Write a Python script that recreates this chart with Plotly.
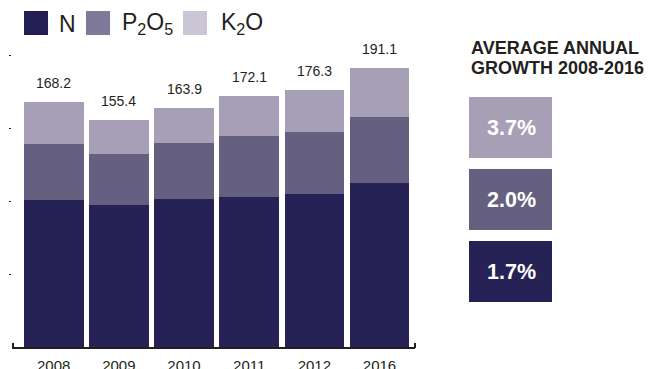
import plotly.graph_objects as go

# ---- data ----
years = ["2008", "2009", "2010", "2011", "2012", "2016"]
n_vals = [100.5, 97.1, 101.2, 103.2, 104.6, 112.3]
p2o5_vals = [38.4, 35.0, 38.6, 41.2, 42.7, 45.7]
k2o_vals = [29.3, 23.3, 24.1, 27.7, 29.0, 33.1]
totals = [168.2, 155.4, 163.9, 172.1, 176.3, 191.1]
series_names = ["N", "P<sub>2</sub>O<sub>5</sub>", "K<sub>2</sub>O"]
growth_labels = ["3.7%", "2.0%", "1.7%"]  # K2O, P2O5, N
panel_title = ["AVERAGE ANNUAL", "GROWTH 2008-2016"]

# ---- styles ----
C_N = "#262256"
C_P = "#655f80"
C_K = "#a69fb6"
L_N = "#231f55"
L_P = "#807a9a"
L_K = "#cac6d6"
TXT = "#231f20"
FONT = "Liberation Sans, Arial, Helvetica, sans-serif"

W, H = 659, 369
ML, MR, MT, MB = 12, 244, 20, 22
PW = W - ML - MR
PH = H - MT - MB


def px_x(px):
    return (px - ML) / PW


def px_y(py):
    return (H - MB - py) / PH


fig = go.Figure()
for vals, col, name in [(n_vals, C_N, "N"), (p2o5_vals, C_P, "P2O5"), (k2o_vals, C_K, "K2O")]:
    fig.add_trace(go.Bar(x=years, y=vals, marker=dict(color=col, line=dict(width=0)),
                         name=name, showlegend=False, hoverinfo="skip"))

annotations = []
for i, tot in enumerate(totals):
    annotations.append(dict(x=i, y=tot, xref="x", yref="y", text=f"{tot:.1f}",
                            showarrow=False, yanchor="bottom", yshift=9,
                            font=dict(family=FONT, size=14, color=TXT)))

shapes = []
# custom legend
leg_sq = [(24, L_N), (86, L_P), (183, L_K)]
leg_tx = [57, 120, 219]
for (sx, col), tx, nm in zip(leg_sq, leg_tx, series_names):
    shapes.append(dict(type="rect", xref="paper", yref="paper",
                       x0=px_x(sx), x1=px_x(sx + 24), y0=px_y(35), y1=px_y(11),
                       fillcolor=col, line=dict(width=0)))
    annotations.append(dict(x=px_x(tx), y=px_y(23.5), xref="paper", yref="paper",
                            text=nm, showarrow=False, xanchor="left", yanchor="middle",
                            font=dict(family=FONT, size=23, color=TXT)))

# axis end ticks
for ex in (12, 414):
    shapes.append(dict(type="line", xref="paper", yref="paper",
                       x0=px_x(ex + 1), x1=px_x(ex + 1), y0=px_y(348), y1=px_y(343),
                       line=dict(color=TXT, width=2)))

# right panel
for line, cy in zip(panel_title, [48, 68]):
    annotations.append(dict(x=px_x(469), y=px_y(cy), xref="paper", yref="paper",
                            text="<b>" + line + "</b>", showarrow=False,
                            xanchor="left", yanchor="middle", align="left",
                            font=dict(family=FONT, size=18, color=TXT)))
box_cols = [C_K, C_P, C_N]
box_tops = [97, 169, 241]
for lab, col, top in zip(growth_labels, box_cols, box_tops):
    shapes.append(dict(type="rect", xref="paper", yref="paper",
                       x0=px_x(469), x1=px_x(552), y0=px_y(top + 61), y1=px_y(top),
                       fillcolor=col, line=dict(width=0)))
    annotations.append(dict(x=px_x(511), y=px_y(top + 31), xref="paper", yref="paper",
                            text="<b>" + lab + "</b>", showarrow=False,
                            xanchor="center", yanchor="middle",
                            font=dict(family=FONT, size=21.5, color="white")))

fig.update_layout(
    width=W, height=H, margin=dict(l=ML, r=MR, t=MT, b=MB, pad=0, autoexpand=False),
    barmode="stack", bargap=0.085,
    plot_bgcolor="white", paper_bgcolor="white",
    xaxis=dict(type="category", range=[-0.64, 5.545], showline=True, linecolor=TXT,
               linewidth=2, ticks="", showgrid=False, zeroline=False, automargin=False,
               ticklabelstandoff=4,
               tickfont=dict(family=FONT, size=15, color=TXT)),
    yaxis=dict(range=[0, PH / 1.458], showgrid=False, zeroline=False, showline=False,
               ticks="outside", ticklen=2, tickwidth=1, tickcolor=TXT, automargin=False,
               tickvals=[50, 100, 150, 200], showticklabels=False),
    annotations=annotations, shapes=shapes,
)
fig.write_html("out.html")
